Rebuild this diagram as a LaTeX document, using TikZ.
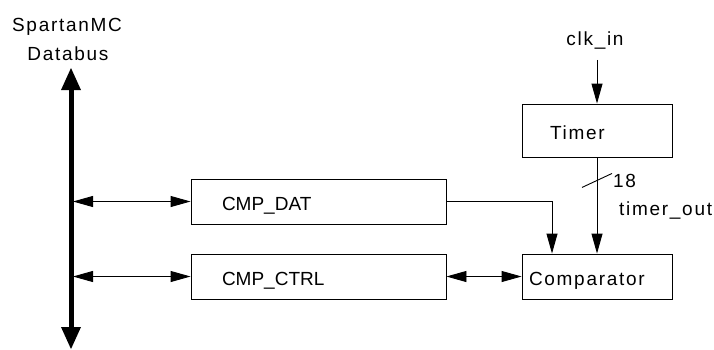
\documentclass[tikz,border=0pt]{standalone}
\usepackage{fontspec}
\setmainfont{Liberation Sans}
\newfontfamily\lsp[LetterSpace=9]{Liberation Sans}
\usetikzlibrary{arrows.meta,calc}
\tikzset{
  box/.style={draw, rectangle, line width=0.9pt, inner ysep=0pt, text height=18pt, text depth=0pt, align=left, font=\fontsize{19}{21}\selectfont},
  lbl/.style={inner sep=0pt, font=\fontsize{19}{21}\selectfont\lsp},
  arr/.style={line width=0.9pt, -{Triangle[length=20pt,width=11pt]}},
  darr/.style={line width=0.9pt, {Triangle[length=20pt,width=11pt]}-{Triangle[length=20pt,width=11pt]}},
  busline/.style={line width=5pt, {Triangle[length=22pt,width=20pt,line width=0pt]}-{Triangle[length=22pt,width=20pt,line width=0pt]}}
}
\begin{document}
\begin{tikzpicture}[x=1pt,y=-1pt]
\useasboundingbox (0,0) rectangle (714,349);
% bus
\coordinate (bustop) at (71,68);
\coordinate (busbot) at (71,349);
\draw[busline] (bustop) -- (busbot);
\node[lbl, anchor=base] (spl) at (67,31) {SpartanMC};
\node[lbl, anchor=base] (dbl) at (68,60) {Databus};
% boxes
\node[box, minimum width=255pt, minimum height=45pt, inner xsep=31pt, text width=193pt] (dat) at (318.5,201.5) {CMP\_DAT};
\node[box, minimum width=255pt, minimum height=45pt, inner xsep=31pt, text width=193pt] (ctrl) at (318.5,276.5) {CMP\_CTRL};
\node[box, minimum width=150pt, minimum height=45pt, inner xsep=7pt, text width=136pt] (comp) at (597,276.5) {\lsp Comparator};
\node[box, minimum width=150pt, minimum height=53pt, inner xsep=28pt, text width=94pt] (timer) at (597,130.5) {\lsp Timer};
% clk
\node[lbl, anchor=base] (clk) at (595,45) {clk\_in};
\draw[arr] (clk.south) ++(2,11) -- (timer.north);
% timer to comparator
\draw[arr] (timer) -- (comp);
\draw[line width=0.9pt] ($(timer.south)+(-15,30)$) -- ++(30,-14);
\node[lbl, anchor=base west] (w18) at (613,187) {18};
\node[lbl, anchor=base west] (tout) at (619,215) {timer\_out};
% data path
\draw[arr] (dat.east) -| ([xshift=-45pt]comp.north);
\draw[darr] ([xshift=2pt]dat.west -| bustop) -- (dat.west);
\draw[darr] ([xshift=2pt]ctrl.west -| bustop) -- (ctrl.west);
\draw[darr] (ctrl) -- (comp);
\end{tikzpicture}
\end{document}
